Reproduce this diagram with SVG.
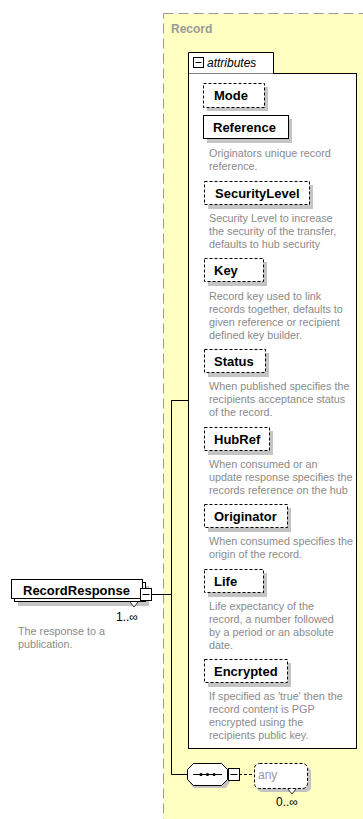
<svg xmlns="http://www.w3.org/2000/svg" width="363" height="819" viewBox="0 0 363 819">
<style>
.lbl{font-family:"Liberation Sans",Arial,sans-serif;font-weight:bold;font-size:13px;fill:#000}
.desc{font-family:"Liberation Sans",Arial,sans-serif;font-size:10.8px;fill:#8a8a8a}
.box{fill:#fff;stroke:#000;stroke-width:1}
.dash{fill:#fff;stroke:#000;stroke-width:1;stroke-dasharray:3,2}
.sh{fill:#c4c4c4}
.line{stroke:#000;stroke-width:1;fill:none}
.occ{font-family:"Liberation Sans",Arial,sans-serif;font-size:12px;fill:#000}
</style>
<rect width="363" height="819" fill="#fff"/>
<g id="Record">
<rect x="163.5" y="13.5" width="210" height="820" fill="#ffffc2" stroke="#999" stroke-dasharray="10,5"/>
<text x="171" y="33" font-family="Liberation Sans,Arial,sans-serif" font-weight="bold" font-size="12" fill="#999">Record</text>
</g>
<g id="attributes">
<rect x="188.5" y="73.5" width="168" height="675" class="box"/>
<path d="M188.5 73.5V52.5H273.5V73.5" fill="#fff" stroke="#000"/>
<rect x="193.5" y="57.5" width="10" height="10" fill="#fff" stroke="#000"/>
<line x1="195.5" y1="62.5" x2="201.5" y2="62.5" stroke="#000"/>
<text x="207" y="67" font-family="Liberation Sans,Arial,sans-serif" font-style="italic" font-size="12">attributes</text>
</g>
<g id="Mode">
<rect x="207" y="87" width="61" height="24" class="sh"/>
<rect x="203.5" y="83.5" width="61" height="24" class="dash"/>
<text x="214" y="100" class="lbl">Mode</text>
</g>
<g id="Reference">
<rect x="207" y="119" width="85" height="24" class="sh"/>
<rect x="203.5" y="115.5" width="85" height="23" class="box"/>
<text x="213" y="132" class="lbl">Reference</text>
<text class="desc"><tspan x="209" y="157">Originators unique record</tspan><tspan x="209" y="170">reference.</tspan></text>
</g>
<g id="SecurityLevel">
<rect x="208" y="185" width="105" height="24" class="sh"/>
<rect x="204.5" y="181.5" width="105" height="23" class="dash"/>
<text x="215" y="198" class="lbl">SecurityLevel</text>
<text class="desc"><tspan x="209" y="222">Security Level to increase</tspan><tspan x="209" y="235">the security of the transfer,</tspan><tspan x="209" y="248">defaults to hub security</tspan></text>
</g>
<g id="Key">
<rect x="208" y="262" width="59" height="24" class="sh"/>
<rect x="204.5" y="258.5" width="59" height="23" class="dash"/>
<text x="214" y="275" class="lbl">Key</text>
<text class="desc"><tspan x="209" y="300">Record key used to link</tspan><tspan x="209" y="313">records together, defaults to</tspan><tspan x="209" y="326">given reference or recipient</tspan><tspan x="209" y="339">defined key builder.</tspan></text>
</g>
<g id="Status">
<rect x="208" y="353" width="61" height="24" class="sh"/>
<rect x="204.5" y="349.5" width="61" height="23" class="dash"/>
<text x="214" y="366" class="lbl">Status</text>
<text class="desc"><tspan x="209" y="390">When published specifies the</tspan><tspan x="209" y="403">recipients acceptance status</tspan><tspan x="209" y="416">of the record.</tspan></text>
</g>
<g id="HubRef">
<rect x="208" y="431" width="65" height="24" class="sh"/>
<rect x="204.5" y="427.5" width="65" height="23" class="dash"/>
<text x="214" y="444" class="lbl">HubRef</text>
<text class="desc"><tspan x="209" y="468">When consumed or an</tspan><tspan x="209" y="481">update response specifies the</tspan><tspan x="209" y="494">records reference on the hub</tspan></text>
</g>
<g id="Originator">
<rect x="208" y="508" width="83" height="24" class="sh"/>
<rect x="204.5" y="504.5" width="83" height="23" class="dash"/>
<text x="214" y="521" class="lbl">Originator</text>
<text class="desc"><tspan x="209" y="545">When consumed specifies the</tspan><tspan x="209" y="558">origin of the record.</tspan></text>
</g>
<g id="Life">
<rect x="208" y="573" width="59" height="24" class="sh"/>
<rect x="204.5" y="569.5" width="59" height="23" class="dash"/>
<text x="214" y="586" class="lbl">Life</text>
<text class="desc"><tspan x="209" y="610">Life expectancy of the</tspan><tspan x="209" y="623">record, a number followed</tspan><tspan x="209" y="636">by a period or an absolute</tspan><tspan x="209" y="649">date.</tspan></text>
</g>
<g id="Encrypted">
<rect x="208" y="663" width="83" height="24" class="sh"/>
<rect x="204.5" y="659.5" width="83" height="23" class="dash"/>
<text x="214" y="676" class="lbl">Encrypted</text>
<text class="desc"><tspan x="209" y="700">If specified as 'true' then the</tspan><tspan x="209" y="713">record content is PGP</tspan><tspan x="209" y="726">encrypted using the</tspan><tspan x="209" y="739">recipients public key.</tspan></text>
</g>
<g id="connectors">
<path d="M152 594.5H171.5M171.5 400.5H188.5M171.5 400V774.5H187" class="line"/>
<line x1="239" y1="774.5" x2="254" y2="774.5" stroke="#000" stroke-dasharray="3,2"/>
</g>
<g id="RecordResponse">
<rect x="18" y="586" width="131" height="20" class="sh"/>
<rect x="14.5" y="582.5" width="131" height="19" class="box"/>
<rect x="11.5" y="579.5" width="131" height="19" class="box"/>
<text x="23" y="595" class="lbl">RecordResponse</text>
<rect x="140.5" y="588.5" width="11" height="12" fill="#fff" stroke="#000"/>
<line x1="142.5" y1="594.5" x2="149.5" y2="594.5" stroke="#000"/>
<path d="M130 602l4 5l4-5" fill="#fff" stroke="#000" stroke-width="0.8"/>
<text x="116" y="621" class="occ">1..∞</text>
<text class="desc"><tspan x="18" y="635">The response to a</tspan><tspan x="18" y="648">publication.</tspan></text>
</g>
<g id="sequence">
<path d="M194 767H226L230 771V782L226 788H194L190 784V771Z" class="sh"/>
<path d="M193.5 763.5H221.5L227.5 769.5V779.5L221.5 785.5H193.5L187.5 779.5V769.5Z" fill="#fff" stroke="#000"/>
<line x1="193" y1="774.5" x2="222" y2="774.5" stroke="#000"/>
<circle cx="201" cy="774.5" r="1.6"/><circle cx="207.5" cy="774.5" r="1.6"/><circle cx="214" cy="774.5" r="1.6"/>
<rect x="228.5" y="768.5" width="11" height="12" fill="#fff" stroke="#000"/>
<line x1="230.5" y1="774.5" x2="237.5" y2="774.5" stroke="#000"/>
</g>
<g id="any">
<rect x="257" y="767" width="54" height="25" rx="5" class="sh"/>
<rect x="254.5" y="763.5" width="53" height="25" rx="5" class="dash"/>
<text x="258" y="779" font-family="Liberation Sans,Arial,sans-serif" font-size="12" fill="#999">any</text>
<path d="M288 789l4 5l4-5" fill="#fff" stroke="#000" stroke-width="0.8"/>
<text x="276" y="806" class="occ">0..∞</text>
</g>
</svg>
